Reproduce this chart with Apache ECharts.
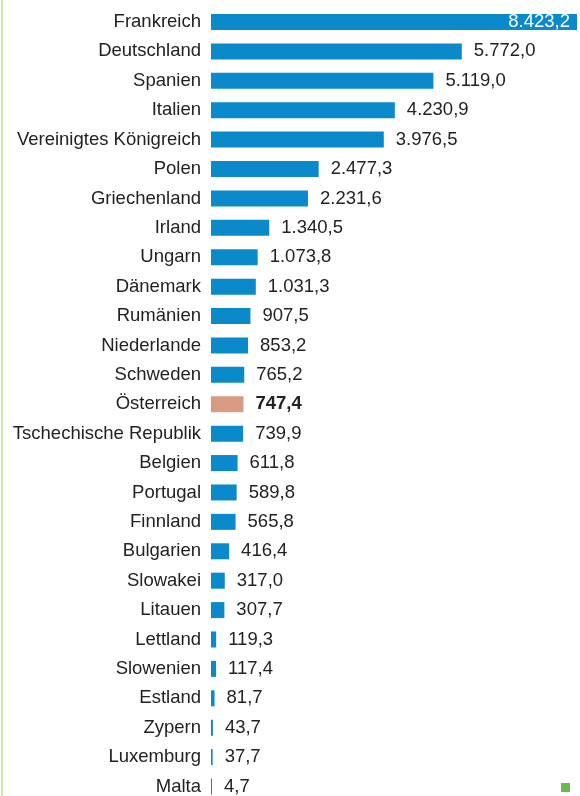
<!DOCTYPE html>
<html><head><meta charset="utf-8">
<script src="https://cdn.jsdelivr.net/npm/echarts@6/dist/echarts.min.js"></script>
<style>html,body{margin:0;padding:0;background:#fff}#c{width:580px;height:796px}</style>
</head><body><div id="c"></div>
<script>
const categories = ["Frankreich","Deutschland","Spanien","Italien","Vereinigtes Königreich","Polen","Griechenland","Irland","Ungarn","Dänemark","Rumänien","Niederlande","Schweden","Österreich","Tschechische Republik","Belgien","Portugal","Finnland","Bulgarien","Slowakei","Litauen","Lettland","Slowenien","Estland","Zypern","Luxemburg","Malta"];
const values = [8423.2,5772.0,5119.0,4230.9,3976.5,2477.3,2231.6,1340.5,1073.8,1031.3,907.5,853.2,765.2,747.4,739.9,611.8,589.8,565.8,416.4,317.0,307.7,119.3,117.4,81.7,43.7,37.7,4.7];
const highlight = "Österreich";

function fmt(v){
  const s = v.toFixed(1).split('.');
  const i = s[0].replace(/\B(?=(\d{3})+(?!\d))/g,'.');
  return i + ',' + s[1];
}
const data = values.map((v,i)=>{
  const isH = categories[i]===highlight;
  const isTop = i===0;
  return {
    value: v,
    itemStyle: {color: isH ? '#d99a82' : '#0a8acb'},
    label: isTop ? {position:'insideRight', color:'#fff', distance:7} :
           (isH ? {fontWeight:'bold'} : {})
  };
});
const chart = echarts.init(document.getElementById('c'));
chart.setOption({
  animation:false,
  grid:{left:211,right:3,top:22,bottom:9,containLabel:false},
  xAxis:{type:'value',min:0,max:8423.2,show:false},
  yAxis:{type:'category',inverse:true,boundaryGap:false,data:categories,
    axisLine:{show:false},axisTick:{show:false},splitLine:{show:false},
    axisLabel:{margin:10,fontSize:18.5,color:'#222',fontFamily:'Liberation Sans, Arial, sans-serif'}},
  series:[{type:'bar',data:data,barWidth:16,barMinHeight:1,
    label:{show:true,position:'right',distance:12,fontSize:18.5,color:'#222',
      fontFamily:'Liberation Sans, Arial, sans-serif',formatter:p=>fmt(p.value)}}],
  graphic:[
    {type:'rect',shape:{x:1,y:0,width:2,height:796},style:{fill:'#d4e8a8'},silent:true},
    {type:'rect',shape:{x:561,y:783,width:9,height:9},style:{fill:'#6cb84a'},silent:true}
  ]
});
</script></body></html>
